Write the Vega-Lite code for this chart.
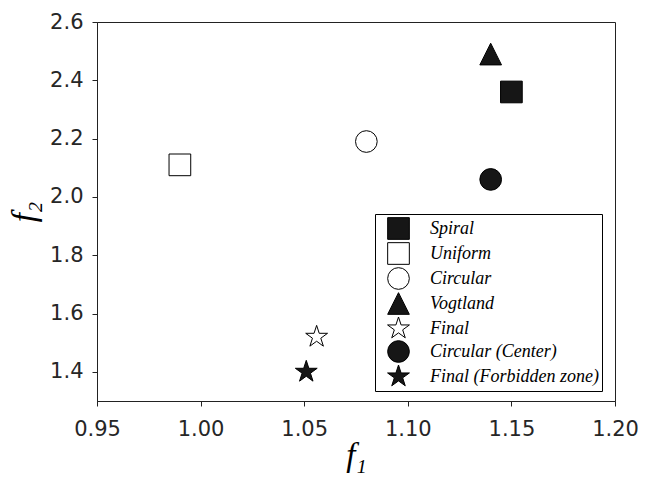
{
  "$schema": "https://vega.github.io/schema/vega-lite/v6.json",
  "autosize": {"type": "none"},
  "padding": {"left": 97, "top": 22, "right": 30, "bottom": 78},
  "width": 518,
  "height": 379,
  "background": "white",
  "data": {
    "values": [
      {"method": "Spiral", "f1": 1.150, "f2": 2.36},
      {"method": "Uniform", "f1": 0.990, "f2": 2.11},
      {"method": "Circular", "f1": 1.080, "f2": 2.19},
      {"method": "Vogtland", "f1": 1.140, "f2": 2.49},
      {"method": "Final", "f1": 1.056, "f2": 1.52},
      {"method": "Circular (Center)", "f1": 1.140, "f2": 2.06},
      {"method": "Final (Forbidden zone)", "f1": 1.051, "f2": 1.40}
    ]
  },
  "mark": {"type": "point", "filled": true, "stroke": "black", "strokeWidth": 1, "opacity": 1, "size": 470},
  "encoding": {
    "x": {
      "field": "f1", "type": "quantitative", "title": "f₁",
      "scale": {"domain": [0.95, 1.2], "nice": false, "zero": false},
      "axis": {"values": [0.95, 1.0, 1.05, 1.1, 1.15, 1.2], "format": ".2f"}
    },
    "y": {
      "field": "f2", "type": "quantitative", "title": "f₂",
      "scale": {"domain": [1.3, 2.6], "nice": false, "zero": false},
      "axis": {"values": [1.4, 1.6, 1.8, 2.0, 2.2, 2.4, 2.6], "format": ".1f"}
    },
    "shape": {
      "field": "method", "type": "nominal",
      "scale": {
        "domain": ["Spiral", "Uniform", "Circular", "Vogtland", "Final", "Circular (Center)", "Final (Forbidden zone)"],
        "range": [
          "square", "square", "circle",
          "M0,-1L1,1L-1,1Z",
          "M0,-1.06L0.238,-0.328L1.008,-0.328L0.385,0.125L0.623,0.858L0,0.405L-0.623,0.858L-0.385,0.125L-1.008,-0.328L-0.238,-0.328Z",
          "circle",
          "M0,-1.06L0.238,-0.328L1.008,-0.328L0.385,0.125L0.623,0.858L0,0.405L-0.623,0.858L-0.385,0.125L-1.008,-0.328L-0.238,-0.328Z"
        ]
      },
      "legend": {
        "title": null, "orient": "none", "legendX": 278, "legendY": 192,
        "encode": {"symbols": {"update": {"stroke": {"value": "black"}, "strokeWidth": {"value": 1}, "opacity": {"value": 1}}}}
      }
    },
    "fill": {
      "field": "method", "type": "nominal",
      "scale": {
        "domain": ["Spiral", "Uniform", "Circular", "Vogtland", "Final", "Circular (Center)", "Final (Forbidden zone)"],
        "range": ["#161616", "white", "white", "#161616", "white", "#161616", "#161616"]
      },
      "legend": {
        "title": null, "orient": "none", "legendX": 278, "legendY": 192,
        "encode": {"symbols": {"update": {"stroke": {"value": "black"}, "strokeWidth": {"value": 1}, "opacity": {"value": 1}}}}
      }
    }
  },
  "config": {
    "view": {"stroke": "#222", "strokeWidth": 1},
    "axis": {
      "grid": false,
      "labelFlush": false,
      "domainColor": "#222",
      "tickColor": "#222",
      "tickSize": 5,
      "labelFont": "DejaVu Sans",
      "labelFontSize": 21,
      "labelColor": "#262626",
      "titleFont": "Liberation Serif",
      "titleFontStyle": "italic",
      "titleFontWeight": "normal",
      "titleFontSize": 33,
      "titleColor": "black"
    },
    "axisX": {"labelPadding": 12, "titlePadding": 0},
    "axisY": {"labelPadding": 9, "titlePadding": 8},
    "legend": {
      "padding": 3,
      "symbolOffset": 9,
      "labelOffset": 20,
      "rowPadding": -2.5,
      "strokeColor": "black",
      "fillColor": "white",
      "cornerRadius": 0,
      "labelFont": "Liberation Serif",
      "labelFontStyle": "italic",
      "labelFontSize": 18,
      "labelColor": "black",
      "labelLimit": 400,
      "symbolSize": 470,
      "symbolStrokeColor": "black",
      "symbolStrokeWidth": 1,
      "symbolOpacity": 1
    }
  }
}
